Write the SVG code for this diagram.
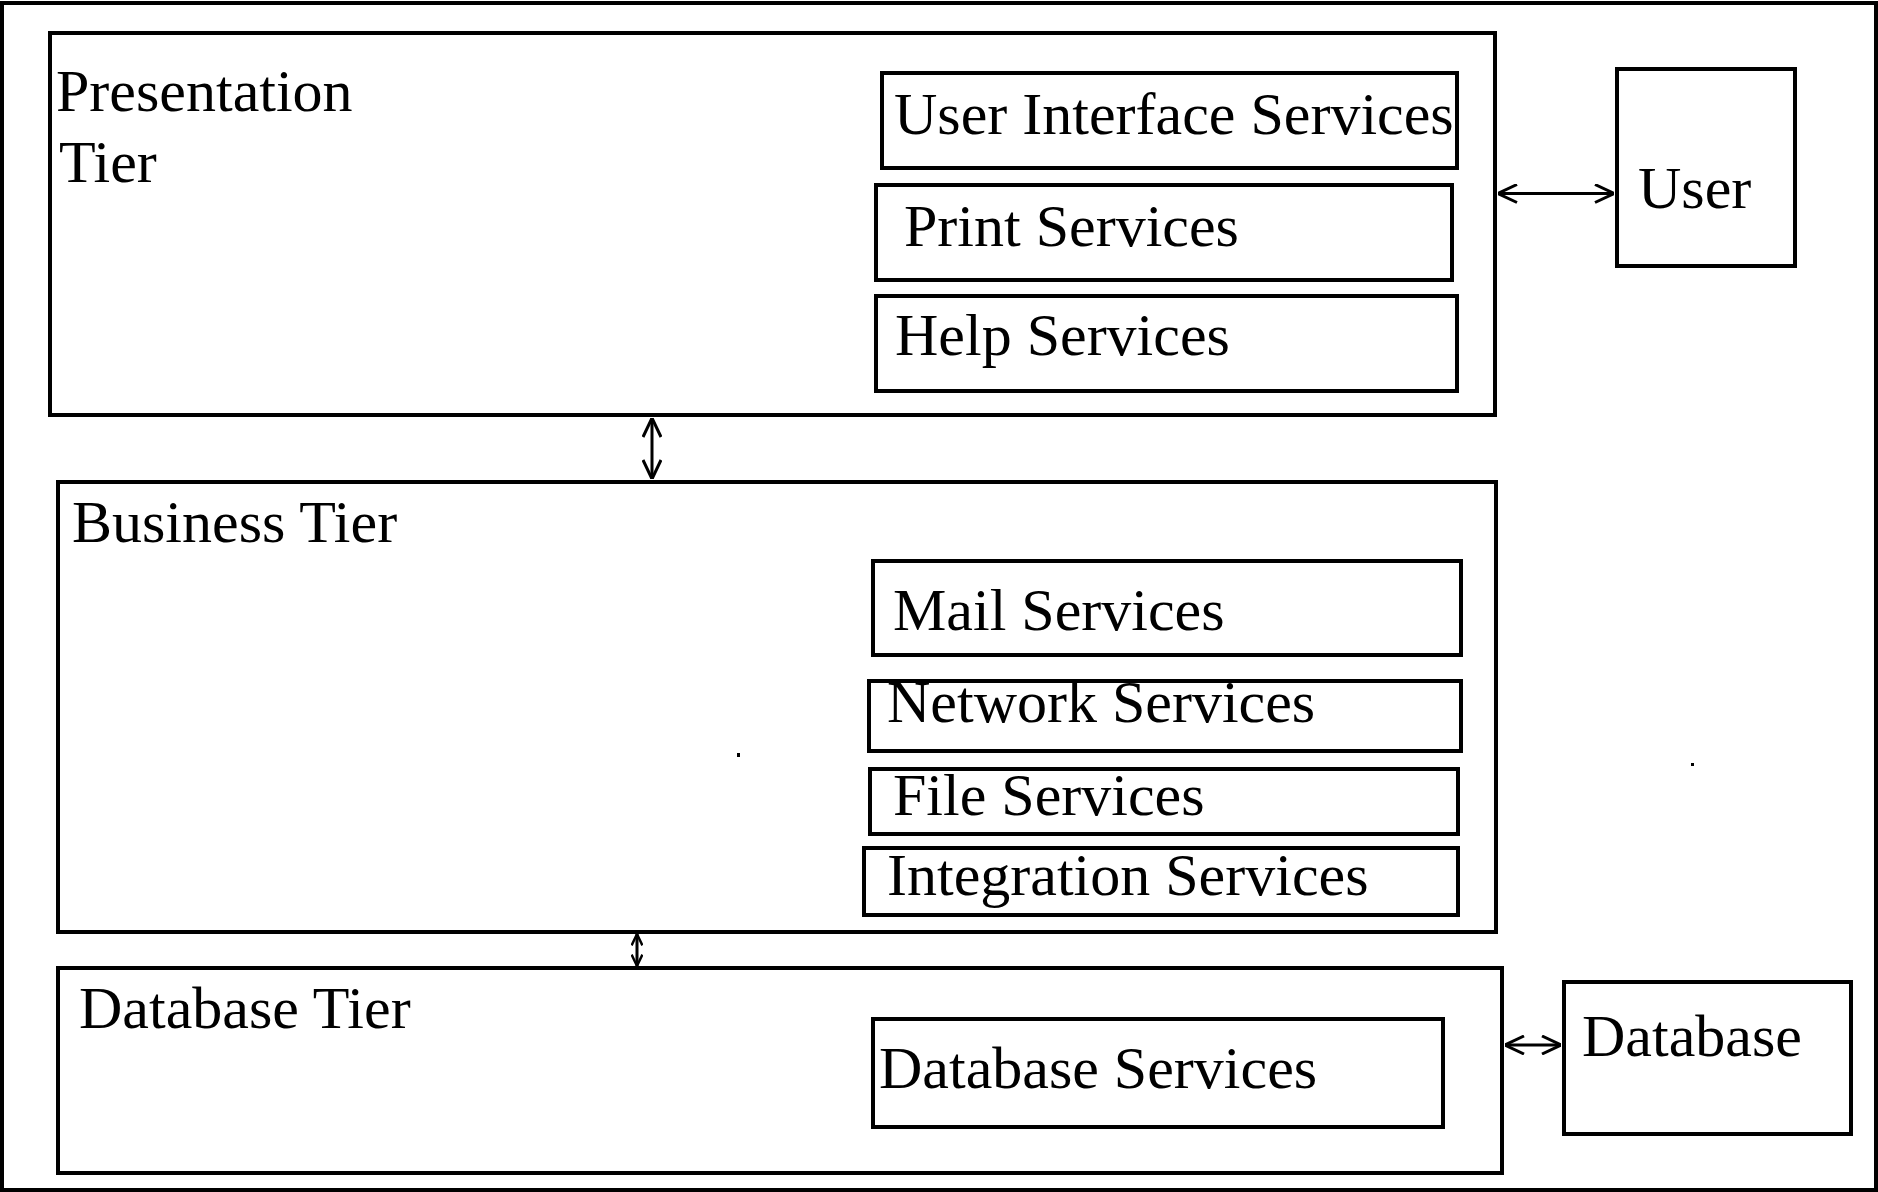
<svg xmlns="http://www.w3.org/2000/svg" width="1878" height="1192" viewBox="0 0 1878 1192">
  <style>
    .box { fill: #ffffff; stroke: #000000; stroke-width: 4; shape-rendering: crispEdges; }
    .lbl { font-family: "Liberation Serif", "Times New Roman", serif; font-size: 60px; fill: #000000; }
    .conn { stroke: #000000; stroke-width: 3; fill: none; }
  </style>
  <defs>
    <marker id="arr" viewBox="0 0 20 20" refX="20" refY="10" markerWidth="20" markerHeight="20" markerUnits="userSpaceOnUse" orient="auto-start-reverse">
      <path d="M1,1 L20,10 L1,19" fill="none" stroke="#000000" stroke-width="3"/>
    </marker>
    <marker id="arrS" viewBox="0 0 20 20" refX="20" refY="10" markerWidth="12" markerHeight="12" markerUnits="userSpaceOnUse" orient="auto-start-reverse">
      <path d="M1,1 L20,10 L1,19" fill="none" stroke="#000000" stroke-width="4"/>
    </marker>
  </defs>
  <rect x="0" y="0" width="1878" height="1192" fill="#ffffff"/>
  <rect x="2" y="3" width="1874" height="1187" fill="none" stroke="#000000" stroke-width="4"/>

  <g id="presentation-tier">
    <rect class="box" x="50" y="33" width="1445" height="382"/>
    <text class="lbl" x="56" y="111">Presentation</text>
    <text class="lbl" x="59" y="182">Tier</text>
  </g>
  <g id="user-interface-services">
    <rect class="box" x="882" y="73" width="575" height="95"/>
    <text class="lbl" x="894" y="134">User Interface Services</text>
  </g>
  <g id="print-services">
    <rect class="box" x="876" y="185" width="576" height="95"/>
    <text class="lbl" x="904" y="246">Print Services</text>
  </g>
  <g id="help-services">
    <rect class="box" x="876" y="296" width="581" height="95"/>
    <text class="lbl" x="895" y="355">Help Services</text>
  </g>
  <g id="user">
    <rect class="box" x="1617" y="69" width="178" height="197"/>
    <text class="lbl" x="1638" y="208">User</text>
  </g>

  <g id="business-tier">
    <rect class="box" x="58" y="482" width="1438" height="450"/>
    <text class="lbl" x="72" y="542">Business Tier</text>
    <rect x="737" y="753" width="3" height="4" fill="#000000"/>
    <rect x="1691" y="763" width="3" height="3" fill="#000000"/>
  </g>
  <g id="mail-services">
    <rect class="box" x="873" y="561" width="588" height="94"/>
    <text class="lbl" x="893" y="630">Mail Services</text>
  </g>
  <g id="network-services">
    <rect class="box" x="869" y="681" width="592" height="70"/>
    <text class="lbl" x="887" y="722">Network Services</text>
  </g>
  <g id="file-services">
    <rect class="box" x="870" y="769" width="588" height="65"/>
    <text class="lbl" x="893" y="815">File Services</text>
  </g>
  <g id="integration-services">
    <rect class="box" x="864" y="848" width="594" height="67"/>
    <text class="lbl" x="887" y="895">Integration Services</text>
  </g>

  <g id="database-tier">
    <rect class="box" x="58" y="968" width="1444" height="205"/>
    <text class="lbl" x="79" y="1028">Database Tier</text>
  </g>
  <g id="database-services">
    <rect class="box" x="873" y="1019" width="570" height="108"/>
    <text class="lbl" x="879" y="1088">Database Services</text>
  </g>
  <g id="database">
    <rect class="box" x="1564" y="982" width="287" height="152"/>
    <text class="lbl" x="1582" y="1056">Database</text>
  </g>

  <g id="connectors">
    <line class="conn" x1="652" y1="418" x2="652" y2="479" marker-start="url(#arr)" marker-end="url(#arr)"/>
    <line class="conn" x1="1498" y1="193.5" x2="1614" y2="193.5" marker-start="url(#arr)" marker-end="url(#arr)"/>
    <line class="conn" x1="637" y1="934" x2="637" y2="966" stroke-width="5" marker-start="url(#arrS)" marker-end="url(#arrS)"/>
    <line class="conn" x1="1505" y1="1045" x2="1561" y2="1045" stroke-width="4" marker-start="url(#arr)" marker-end="url(#arr)"/>
  </g>
</svg>
